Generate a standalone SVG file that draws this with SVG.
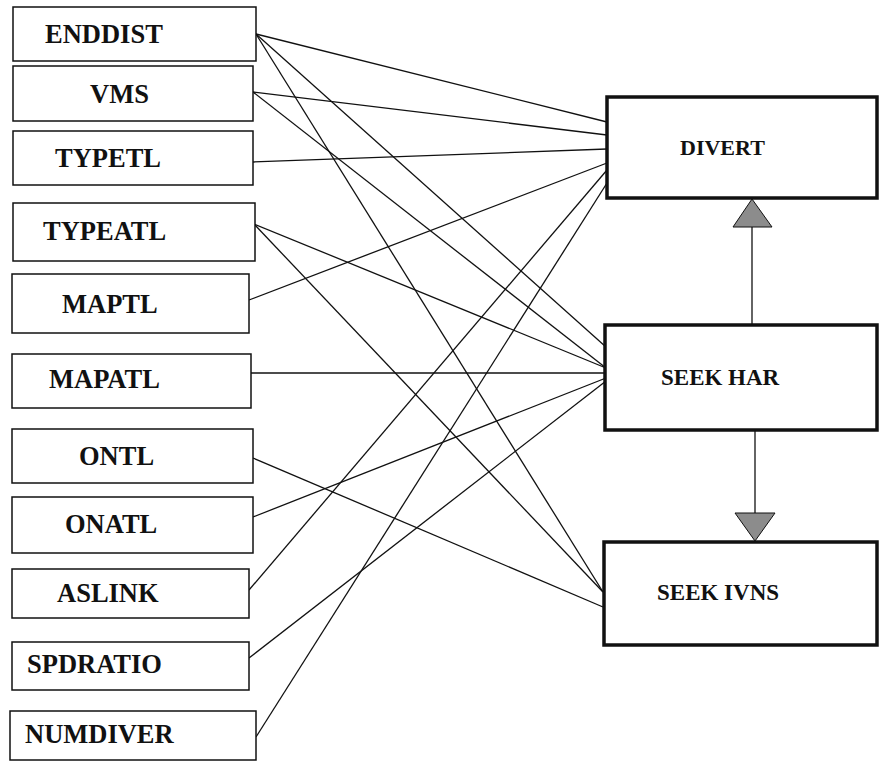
<svg xmlns="http://www.w3.org/2000/svg" width="879" height="762" viewBox="0 0 879 762">
<style>
.src rect{fill:#fff;stroke:#111;stroke-width:1.5}
.tgt rect{fill:#fff;stroke:#111;stroke-width:3.5}
text{font-family:"Liberation Serif","Times New Roman",serif;font-weight:bold;fill:#111}
.src text{font-size:26.5px}
.tgt text{font-size:23px}
#DIVERT text{font-size:22px}
#connectors line{stroke:#111;stroke-width:1.3}
.tri{fill:#8c8c8c;stroke:#111;stroke-width:1}
</style>
<rect width="879" height="762" fill="#fff"/>
<g id="connectors">
<line x1="256" y1="34" x2="607" y2="122"/>
<line x1="256" y1="34" x2="606" y2="347"/>
<line x1="256" y1="34" x2="603" y2="592"/>
<line x1="253" y1="92" x2="607" y2="135"/>
<line x1="253" y1="92" x2="606" y2="368"/>
<line x1="253" y1="162" x2="607" y2="149"/>
<line x1="254" y1="224" x2="606" y2="368"/>
<line x1="254" y1="224" x2="603" y2="592"/>
<line x1="249" y1="300" x2="607" y2="163"/>
<line x1="251" y1="373" x2="606" y2="373"/>
<line x1="253" y1="458" x2="603" y2="607"/>
<line x1="253" y1="517" x2="606" y2="378"/>
<line x1="249" y1="590" x2="607" y2="170"/>
<line x1="249" y1="658" x2="606" y2="381"/>
<line x1="256" y1="737" x2="607" y2="183"/>
<line x1="752" y1="227" x2="752" y2="325"/>
<line x1="755" y1="430" x2="755" y2="513"/>
<polygon class="tri" points="752,199 733,227 772,227"/>
<polygon class="tri" points="735,513 775,513 755,541"/>
</g>
<g id="ENDDIST" class="src"><rect x="13" y="7" width="243" height="54"/><text x="45" y="43">ENDDIST</text></g>
<g id="VMS" class="src"><rect x="13" y="66" width="240" height="55"/><text x="90" y="103">VMS</text></g>
<g id="TYPETL" class="src"><rect x="13" y="131" width="240" height="54"/><text x="55" y="167">TYPETL</text></g>
<g id="TYPEATL" class="src"><rect x="13" y="203" width="242" height="58"/><text x="43" y="240">TYPEATL</text></g>
<g id="MAPTL" class="src"><rect x="12" y="274" width="237" height="59"/><text x="62" y="313">MAPTL</text></g>
<g id="MAPATL" class="src"><rect x="12" y="354" width="239" height="54"/><text x="49" y="388">MAPATL</text></g>
<g id="ONTL" class="src"><rect x="12" y="429" width="241" height="54"/><text x="79" y="465">ONTL</text></g>
<g id="ONATL" class="src"><rect x="12" y="497" width="241" height="56"/><text x="65" y="533">ONATL</text></g>
<g id="ASLINK" class="src"><rect x="12" y="569" width="237" height="49"/><text x="57" y="602">ASLINK</text></g>
<g id="SPDRATIO" class="src"><rect x="12" y="642" width="237" height="48"/><text x="27" y="673">SPDRATIO</text></g>
<g id="NUMDIVER" class="src"><rect x="10" y="711" width="246" height="49"/><text x="25" y="743">NUMDIVER</text></g>
<g id="DIVERT" class="tgt"><rect x="607" y="97" width="270" height="101"/><text x="680" y="155">DIVERT</text></g>
<g id="SEEK_HAR" class="tgt"><rect x="605" y="325" width="272" height="105"/><text x="661" y="385">SEEK HAR</text></g>
<g id="SEEK_IVNS" class="tgt"><rect x="604" y="542" width="273" height="103"/><text x="657" y="600">SEEK IVNS</text></g>
</svg>
